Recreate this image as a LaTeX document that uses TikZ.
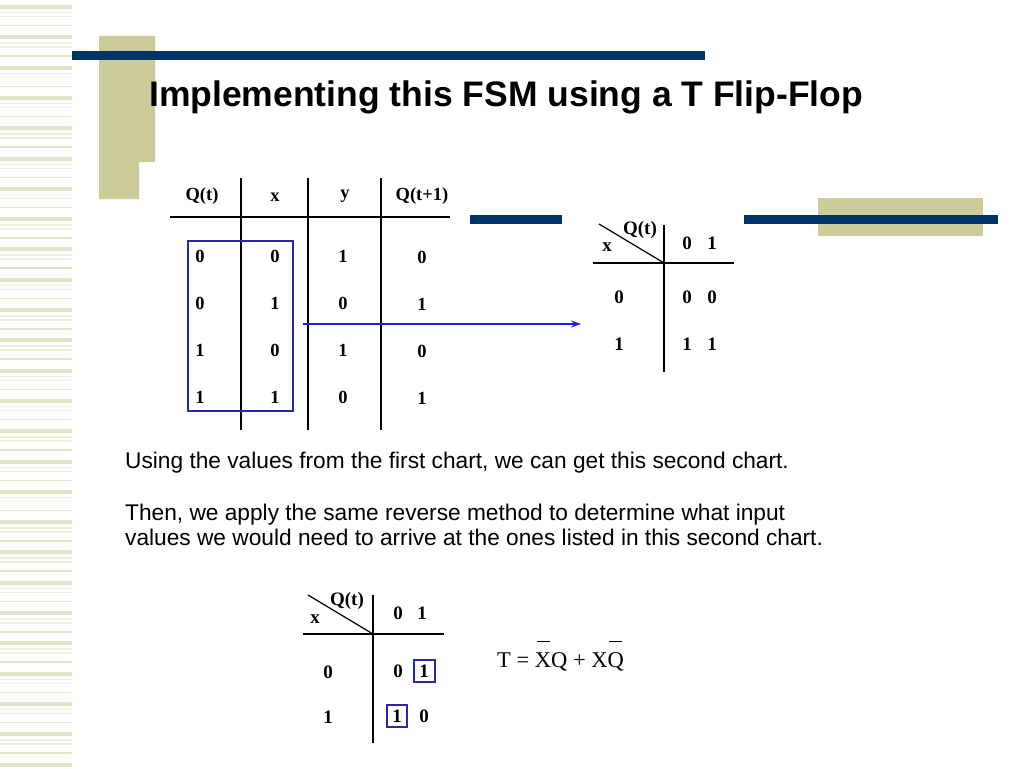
\documentclass[tikz,border=0pt]{standalone}
\usepackage{fontspec}
\setmainfont{Liberation Serif}
\newfontfamily\arialf{Liberation Sans}
\usetikzlibrary{arrows.meta}
\definecolor{navy}{RGB}{0,51,102}
\definecolor{khaki}{RGB}{204,204,153}
\definecolor{stripe}{RGB}{228,228,200}
\definecolor{stripelt}{RGB}{238,238,222}
\definecolor{boxblue}{RGB}{40,40,170}
\definecolor{arrowblue}{RGB}{30,30,230}
\newcommand\obar[1]{\leavevmode\setbox0\hbox{#1}\rlap{\hbox to\wd0{\hss\raisebox{25pt}{\rule{0.8\wd0}{1.5pt}}\hss}}#1}
\begin{document}
\begin{tikzpicture}[x=1pt,y=-1pt,
  cell/.style={inner sep=0pt, anchor=center, font=\fontsize{18.5}{20}\selectfont\bfseries},
  kcell/.style={inner sep=0pt, anchor=center, font=\fontsize{19}{21}\selectfont\bfseries},
  tline/.style={line width=2pt, black},
  kline/.style={line width=1.8pt, black},
  diag/.style={line width=1.2pt, black},
  bluebox/.style={draw=boxblue, line width=1.5pt},
  body/.style={inner sep=0pt, anchor=base west, font=\arialf\fontsize{22.7}{26}\selectfont}]
\useasboundingbox (0,0) rectangle (1024,768);
\fill[white] (0,0) rectangle (1024,768);
% left stripes
\foreach \k in {0,...,25}{
  \pgfmathsetmacro\yy{5+30.3*\k}
  \fill[stripe] (0,\yy) rectangle (72,\yy+4);
  \fill[stripelt] (0,\yy+7) rectangle (72,\yy+8.5);
  \fill[stripelt] (0,\yy+11) rectangle (72,\yy+12.5);
  \fill[stripe] (0,\yy+20) rectangle (72,\yy+21.5);
}
% decorations
\fill[khaki] (99,36) -- (155,36) -- (155,162) -- (139,162) -- (139,199) -- (99,199) -- cycle;
\fill[navy] (72,51) rectangle (705,60);
\fill[khaki] (818,198) rectangle (983,236);
\fill[navy] (744,215) rectangle (998,224);
\fill[navy] (470,215) rectangle (562,224);
% title
\node[anchor=base west, inner sep=0pt, font=\arialf\bfseries\fontsize{35.5}{40}\selectfont] (title) at (149,106) {Implementing this FSM using a T Flip-Flop};
% table 1
\draw[tline] (241,178) -- (241,430);
\draw[tline] (308,178) -- (308,430);
\draw[tline] (381,178) -- (381,430);
\draw[tline] (170,217) -- (450,217);
\node[cell] (hq) at (202,196) {Q(t)};
\node[cell] (hx) at (275,197) {x};
\node[cell] (hy) at (345,196) {y};
\node[cell] (hq1) at (422,196) {Q(t+1)};
\foreach \r/\a/\b/\c/\d [count=\i] in {256/0/0/1/0, 303/0/1/0/1, 350/1/0/1/0, 397/1/1/0/1}{
  \node[cell] (ta\i) at (200,\r) {\a};
  \node[cell] (tb\i) at (275,\r) {\b};
  \node[cell] (tc\i) at (343,\r) {\c};
  \node[cell] (td\i) at (422,\r+1) {\d};
}
\draw[bluebox] (188,241) rectangle (293,411);
\coordinate (arrS) at (303,324);
\coordinate (arrE) at (581,324);
\draw[arrowblue, line width=1.2pt, -{Stealth[length=10pt,width=7pt]}] (arrS) -- (arrE);
% K-map 1
\draw[kline] (664,225) -- (664,372);
\draw[kline] (593,263) -- (734,263);
\draw[diag] (599,224) -- (664,263);
\node[kcell] (k1q) at (640,230) {Q(t)};
\node[kcell] (k1x) at (607,247) {x};
\node[kcell] (k1c0) at (687,243) {0};
\node[kcell] (k1c1) at (712,243) {1};
\node[kcell] (k1r0) at (619,297) {0};
\node[kcell] (k1r1) at (619,344) {1};
\node[kcell] (k1a) at (687,297) {0};
\node[kcell] (k1b) at (712,297) {0};
\node[kcell] (k1c) at (687,344) {1};
\node[kcell] (k1d) at (712,344) {1};
% body text
\node[body] (t1) at (125,468) {Using the values from the first chart, we can get this second chart.};
\node[body] (t2) at (125,520) {Then, we apply the same reverse method to determine what input};
\node[body] (t3) at (125,545) {values we would need to arrive at the ones listed in this second chart.};
% K-map 2
\draw[kline] (373,595) -- (373,743);
\draw[kline] (303,634) -- (444,634);
\draw[diag] (308,595) -- (373,634);
\node[kcell] (k2q) at (347,601) {Q(t)};
\node[kcell] (k2x) at (315,619) {x};
\node[kcell] (k2c0) at (398,613) {0};
\node[kcell] (k2c1) at (422,613) {1};
\node[kcell] (k2r0) at (328,672) {0};
\node[kcell] (k2r1) at (328,717) {1};
\node[kcell] (k2a) at (398,671) {0};
\node[kcell] (k2b) at (424,671) {1};
\node[kcell] (k2c) at (397,716) {1};
\node[kcell] (k2d) at (424,716) {0};
\draw[bluebox] (414,660) rectangle (435,682);
\draw[bluebox] (387,705) rectangle (407,727);
% equation
\node[anchor=base west, inner sep=0pt, font=\fontsize{22.5}{24}\selectfont] (eq) at (497,667) {T = \obar{X}Q + X\obar{Q}};
\end{tikzpicture}
\end{document}
